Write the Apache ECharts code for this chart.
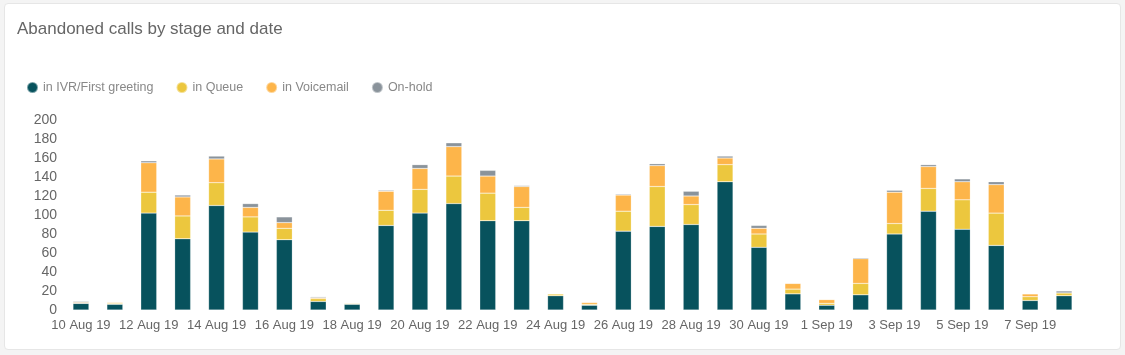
<!DOCTYPE html>
<html>
<head>
<meta charset="utf-8">
<script src="https://cdn.jsdelivr.net/npm/echarts@6/dist/echarts.min.js"></script>
<style>
html,body{margin:0;padding:0;background:#f4f4f4;}
#card{position:absolute;left:4px;top:3px;width:1115px;height:345px;background:#fff;border:1px solid #e6e6e6;border-radius:4px;}
#chart{position:absolute;left:0;top:0;width:1125px;height:355px;}
</style>
</head>
<body>
<div id="card"></div>
<div id="chart"></div>
<script>
const categories = ["10 Aug 19","11 Aug 19","12 Aug 19","13 Aug 19","14 Aug 19","15 Aug 19","16 Aug 19","17 Aug 19","18 Aug 19","19 Aug 19","20 Aug 19","21 Aug 19","22 Aug 19","23 Aug 19","24 Aug 19","25 Aug 19","26 Aug 19","27 Aug 19","28 Aug 19","29 Aug 19","30 Aug 19","31 Aug 19","1 Sep 19","2 Sep 19","3 Sep 19","4 Sep 19","5 Sep 19","6 Sep 19","7 Sep 19","8 Sep 19"];
const ivr       = [7, 6, 102, 75, 110, 82, 74, 9, 6, 89, 102, 112, 94, 94, 15, 5, 83, 88, 90, 135, 66, 17, 5, 16, 80, 104, 85, 68, 10, 15];
const queue     = [0, 1, 22, 24, 24, 16, 12, 3, 1, 16, 25, 29, 29, 14, 2, 1, 21, 42, 21, 18, 14, 5, 2, 12, 11, 24, 31, 34, 4, 3];
const voicemail = [1, 1, 31, 20, 25, 10, 6, 1, 0, 20, 22, 31, 18, 22, 0, 2, 17, 22, 9, 7, 6, 6, 4, 26, 33, 23, 19, 30, 3, 0];
const onhold    = [1, 0, 2, 2, 3, 4, 6, 1, 0, 1, 4, 4, 6, 1, 0, 0, 1, 2, 5, 2, 3, 0, 0, 1, 2, 2, 3, 3, 0, 2];
const seriesNames = ["in IVR/First greeting","in Queue","in Voicemail","On-hold"];
const colors = ["#07525d","#ecc73e","#fdb54a","#8a939b"];
const yTicks = {min:0, max:200, interval:20};

const chart = echarts.init(document.getElementById('chart'), null, {renderer:'canvas'});
const font = '"Liberation Sans", Arial, sans-serif';
const mk = (name, data, i) => ({
  name, type:'bar', stack:'total', data, barWidth:'47%',
  itemStyle:{color:colors[i], borderColor:'rgba(255,255,255,0.45)', borderWidth:0.5},
  emphasis:{disabled:true}
});
chart.setOption({
  animation:false,
  textStyle:{fontFamily:font},
  title:{text:'Abandoned calls by stage and date', left:12, top:16,
    textStyle:{fontSize:17, fontWeight:'normal', color:'#666', fontFamily:font}},
  legend:{left:21, top:76, icon:'circle', itemWidth:11, itemHeight:11, itemGap:22,
    textStyle:{fontSize:12.5, color:'#888', fontFamily:font},
    data:seriesNames},
  grid:{left:64, right:44, top:120, bottom:45, containLabel:false},
  xAxis:{type:'category', data:categories,
    axisLine:{show:false}, axisTick:{show:false},
    axisLabel:{interval:1, color:'#666', fontSize:13, margin:9, fontFamily:font}},
  yAxis:{type:'value', min:yTicks.min, max:yTicks.max, interval:yTicks.interval,
    splitLine:{show:false}, axisLine:{show:false}, axisTick:{show:false},
    axisLabel:{color:'#666', fontSize:14, margin:7, fontFamily:font}},
  series:[mk(seriesNames[0], ivr, 0), mk(seriesNames[1], queue, 1), mk(seriesNames[2], voicemail, 2), mk(seriesNames[3], onhold, 3)]
});
</script>
</body>
</html>
